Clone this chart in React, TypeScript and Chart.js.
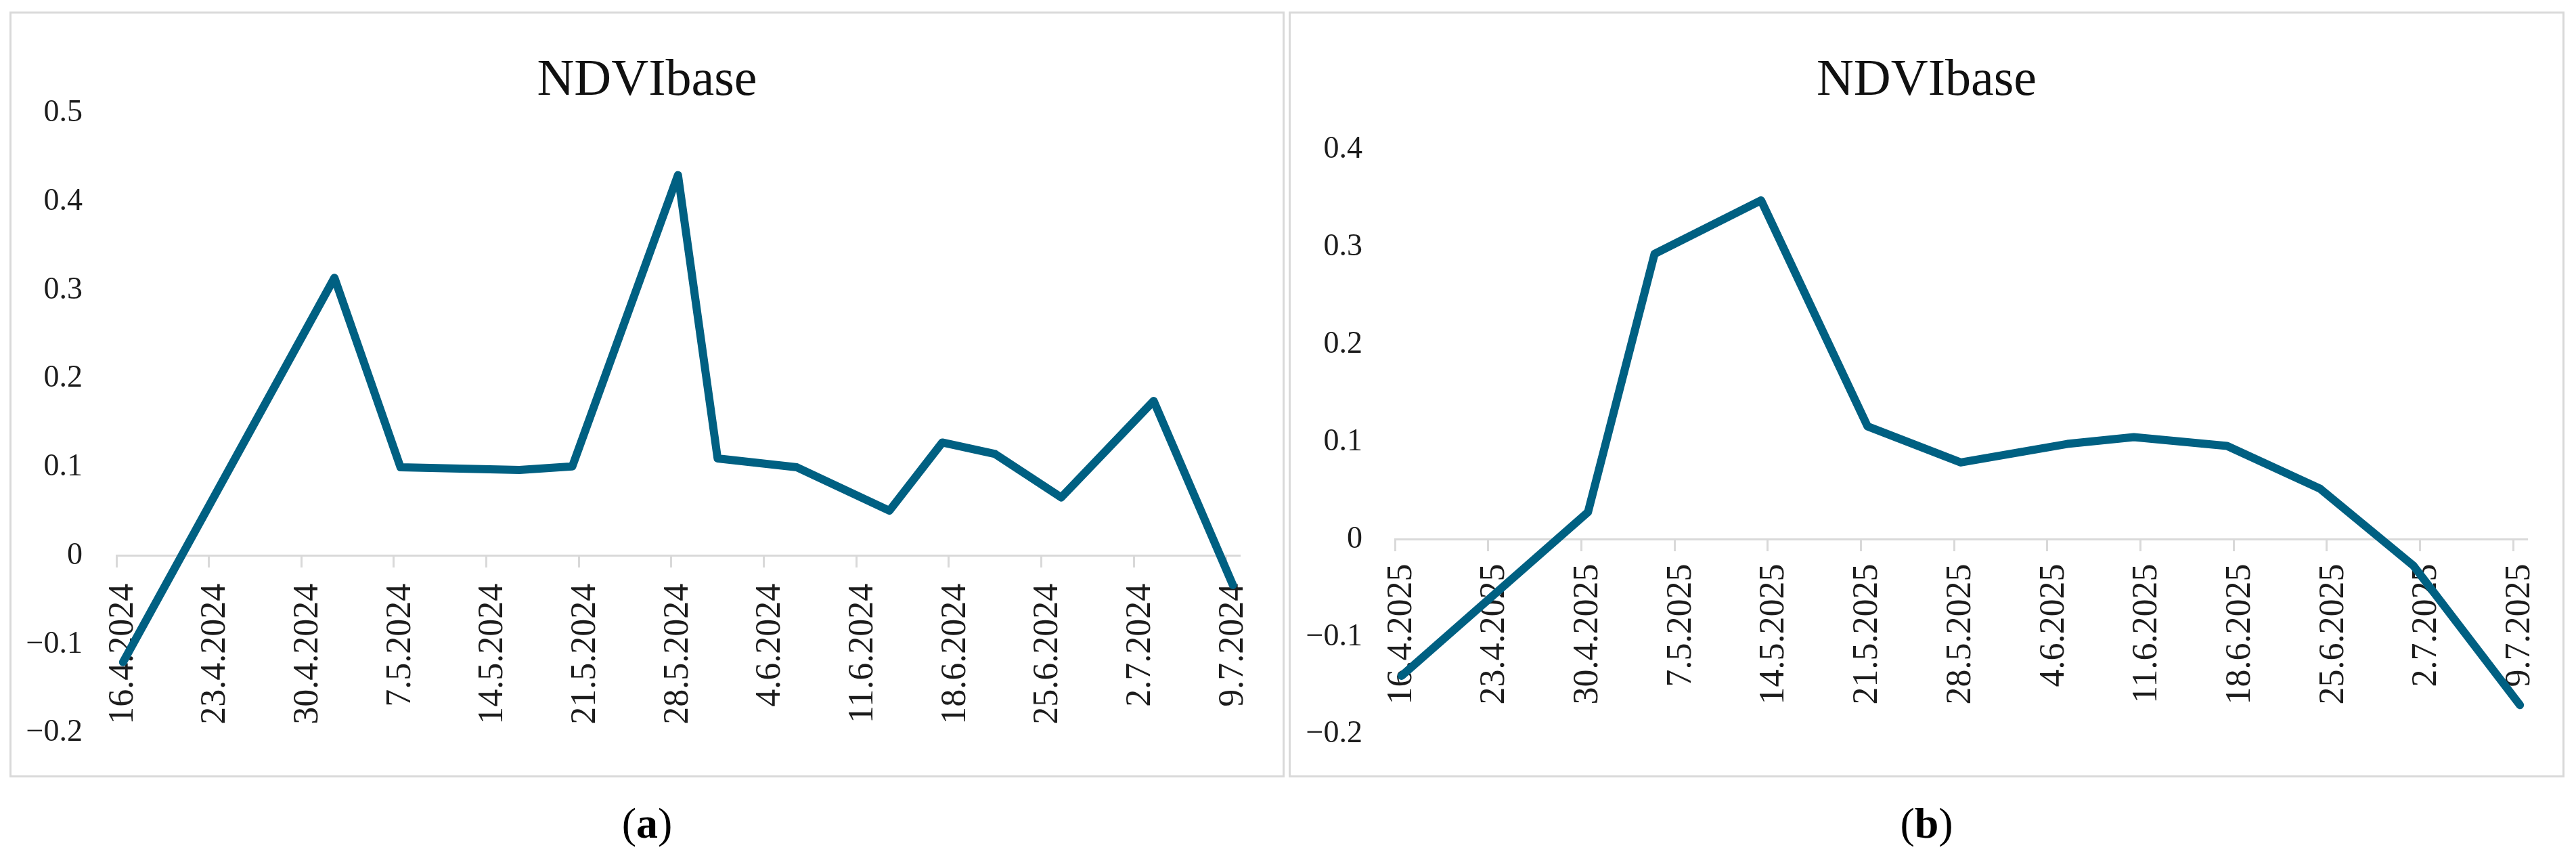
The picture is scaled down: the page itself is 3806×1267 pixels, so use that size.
import React, { useEffect, useRef } from "react";
import { Chart, registerables } from "chart.js";

Chart.register(...registerables);

// ---- data ----
const X_LABELS_A = ["16.4.2024", "23.4.2024", "30.4.2024", "7.5.2024", "14.5.2024", "21.5.2024", "28.5.2024", "4.6.2024", "11.6.2024", "18.6.2024", "25.6.2024", "2.7.2024", "9.7.2024"];
const X_LABELS_B = ["16.4.2025", "23.4.2025", "30.4.2025", "7.5.2025", "14.5.2025", "21.5.2025", "28.5.2025", "4.6.2025", "11.6.2025", "18.6.2025", "25.6.2025", "2.7.2025", "9.7.2025"];

// days since 16 April of each year
const DAYS_A = [0, 16, 21, 30, 34, 42, 45, 51, 58, 62, 66, 71, 78, 84];
const NDVI_A = [-0.12, 0.314, 0.1, 0.097, 0.101, 0.43, 0.11, 0.1, 0.051, 0.128, 0.115, 0.066, 0.175, -0.033];

const DAYS_B = [0, 14, 19, 27, 35, 42, 50, 55, 62, 69, 76, 84];
const NDVI_B = [-0.14, 0.028, 0.293, 0.348, 0.116, 0.079, 0.098, 0.105, 0.096, 0.052, -0.027, -0.17];

const Y_TICKS_A = [-0.2, -0.1, 0, 0.1, 0.2, 0.3, 0.4, 0.5];
const Y_TICKS_B = [-0.2, -0.1, 0, 0.1, 0.2, 0.3, 0.4];

const TITLE = "NDVIbase";
const LINE_COLOR = "#006082";
const FRAME_COLOR = "#d9d9d9";
const TEXT_COLOR = "#1c1c1c";
const FONT = "'Liberation Serif', 'DejaVu Serif', serif";

function fmtY(v: number): string {
  const r = Math.round(v * 10) / 10;
  if (r === 0) return "0";
  return (r < 0 ? "\u2212" : "") + Math.abs(r).toFixed(1);
}

type PanelProps = {
  left: number;
  width: number;
  labels: string[];
  days: number[];
  values: number[];
  yTicks: number[];
  chartLeft: number;
  chartRight: number;
  chartTop: number;
  chartBottom: number;
  yPad: number;
  xPad: number;
  tag: string;
};

const CANVAS_H = 1160;

function Panel(p: PanelProps) {
  const ref = useRef<HTMLCanvasElement | null>(null);
  useEffect(() => {
    if (!ref.current) return;
    const tickDays = p.labels.map((_, i) => i * 7);
    const maxDay = tickDays[tickDays.length - 1] + 1;
    const chart = new Chart(ref.current, {
      type: "line",
      data: {
        datasets: [
          {
            label: TITLE,
            data: p.days.map((d, i) => ({ x: d + 0.5, y: p.values[i] })),
            borderColor: LINE_COLOR,
            backgroundColor: LINE_COLOR,
            borderWidth: 12,
            pointRadius: 0,
            borderJoinStyle: "round",
            borderCapStyle: "round",
            tension: 0,
          },
        ],
      },
      options: {
        animation: false,
        responsive: false,
        devicePixelRatio: 1,
        layout: {
          padding: {
            left: 0,
            top: p.chartTop,
            right: p.width - p.chartRight,
            bottom: CANVAS_H - p.chartBottom,
          },
        },
        plugins: {
          legend: { display: false },
          title: { display: false },
          tooltip: { enabled: false },
        },
        scales: {
          x: {
            type: "linear",
            position: { y: 0 } as any,
            min: 0,
            max: maxDay,
            afterBuildTicks: (s: any) => {
              s.ticks = tickDays.map((v) => ({ value: v }));
            },
            grid: {
              drawOnChartArea: false,
              drawTicks: true,
              tickLength: 16,
              color: FRAME_COLOR,
              lineWidth: 3,
            },
            border: { display: true, color: FRAME_COLOR, width: 3 },
            ticks: {
              autoSkip: false,
              minRotation: 90,
              maxRotation: 90,
              padding: p.xPad,
              labelOffset: 10,
              color: TEXT_COLOR,
              font: { family: FONT, size: 52 },
              callback: (_v: any, i: number) => p.labels[i] ?? "",
            },
          },
          y: {
            type: "linear",
            min: p.yTicks[0],
            max: p.yTicks[p.yTicks.length - 1],
            afterBuildTicks: (s: any) => {
              s.ticks = p.yTicks.map((v) => ({ value: v }));
            },
            afterFit: (s: any) => {
              s.width = p.chartLeft;
            },
            grid: { display: false, drawTicks: false },
            border: { display: false },
            ticks: {
              padding: p.yPad,
              color: TEXT_COLOR,
              font: { family: FONT, size: 46 },
              callback: (v: any) => fmtY(Number(v)),
            },
          },
        },
      },
    });
    return () => chart.destroy();
  }, []);

  return (
    <div style={{ position: "absolute", left: p.left, top: 0, width: p.width, height: 1267 }}>
      <canvas
        ref={ref}
        width={p.width}
        height={CANVAS_H}
        style={{ position: "absolute", left: 0, top: 0, width: p.width, height: CANVAS_H }}
      />
    </div>
  );
}

export default function App() {
  return (
    <div style={{ position: "absolute", left: 0, top: 0, width: 3806, height: 1267, background: "#fff", overflow: "hidden", fontFamily: FONT }}>
      {/* frames */}
      <div style={{ position: "absolute", left: 14, top: 17, width: 1884, height: 1131, border: `3px solid ${FRAME_COLOR}`, boxSizing: "border-box" }} />
      <div style={{ position: "absolute", left: 1904, top: 17, width: 1885, height: 1131, border: `3px solid ${FRAME_COLOR}`, boxSizing: "border-box" }} />
      {/* titles */}
      <div style={{ position: "absolute", left: 14, width: 1884, top: 68, textAlign: "center", fontSize: 76, lineHeight: "92px", color: "#111" }}>{TITLE}</div>
      <div style={{ position: "absolute", left: 1904, width: 1885, top: 68, textAlign: "center", fontSize: 76, lineHeight: "92px", color: "#111" }}>{TITLE}</div>
      <Panel
        left={0}
        width={1900}
        labels={X_LABELS_A}
        days={DAYS_A}
        values={NDVI_A}
        yTicks={Y_TICKS_A}
        chartLeft={172}
        chartRight={1842}
        chartTop={167}
        chartBottom={1097}
        yPad={50}
        xPad={25}
        tag="a"
      />
      <Panel
        left={1900}
        width={1906}
        labels={X_LABELS_B}
        days={DAYS_B}
        values={NDVI_B}
        yTicks={Y_TICKS_B}
        chartLeft={161}
        chartRight={1833}
        chartTop={221}
        chartBottom={1098}
        yPad={48}
        xPad={20}
        tag="b"
      />
      {/* sub-labels */}
      <div style={{ position: "absolute", left: 14, width: 1884, top: 1176, textAlign: "center", fontSize: 64, lineHeight: "80px", color: "#000" }}>
        (<b>a</b>)
      </div>
      <div style={{ position: "absolute", left: 1904, width: 1885, top: 1176, textAlign: "center", fontSize: 64, lineHeight: "80px", color: "#000" }}>
        (<b>b</b>)
      </div>
    </div>
  );
}
